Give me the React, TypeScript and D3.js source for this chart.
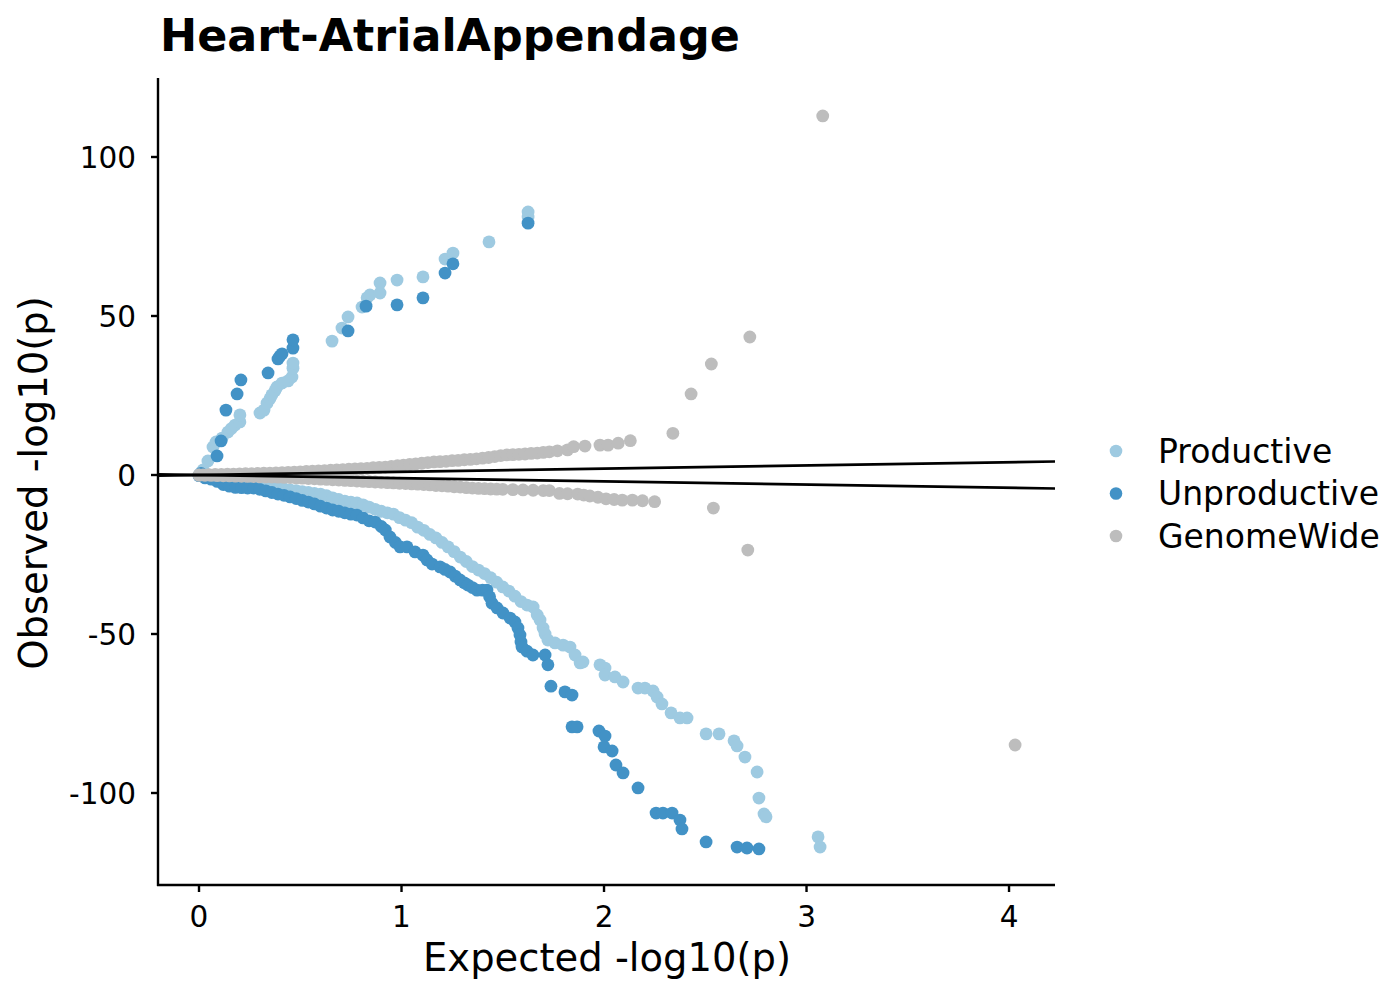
import React from "react";
import * as d3 from "d3";

const productive: [number, number][] = [
  [0.005, 0.3], [0.01, 0.8], [0.02, 1.6], [0.044, 4.4], [0.069, 8.8], [0.084, 10.4], [0.114, 11.6],
  [0.143, 13.5], [0.16, 14.6], [0.178, 15.7], [0.202, 16.7], [0.202, 18.9], [0.301, 19.5],
  [0.321, 20.4], [0.336, 22.6], [0.35, 24.0], [0.36, 25.2], [0.375, 26.5], [0.385, 27.7],
  [0.41, 28.9], [0.44, 29.6], [0.459, 30.8], [0.464, 33.6], [0.464, 35.2], [0.657, 42.1],
  [0.706, 46.2], [0.736, 49.7], [0.805, 52.8], [0.83, 55.7], [0.844, 56.6], [0.894, 57.2],
  [0.894, 60.4], [0.978, 61.3], [1.106, 62.3], [1.215, 67.9], [1.254, 69.8], [1.432, 73.3],
  [1.625, 82.7], [1.625, 81.1],
  [0.0, -0.1], [0.03, -0.6], [0.06, -1.0], [0.09, -1.4], [0.12, -1.8], [0.15, -2.1], [0.18, -2.4],
  [0.21, -2.6], [0.24, -2.9], [0.27, -3.1], [0.3, -3.4], [0.33, -3.7], [0.36, -3.9], [0.39, -4.1],
  [0.42, -4.4], [0.45, -4.7], [0.48, -4.9], [0.51, -5.2], [0.54, -5.5], [0.57, -5.8], [0.6, -6.0],
  [0.63, -6.5], [0.66, -7.2], [0.69, -7.7], [0.72, -8.2], [0.75, -8.5], [0.78, -8.8], [0.81, -9.4],
  [0.84, -10.1], [0.87, -10.8], [0.9, -11.4], [0.93, -11.9], [0.96, -12.3], [0.99, -13.4],
  [1.02, -14.2], [1.05, -15.0], [1.08, -16.4], [1.11, -17.4], [1.14, -18.7], [1.17, -19.8],
  [1.2, -21.2], [1.23, -22.6], [1.26, -24.1], [1.29, -25.8], [1.32, -27.2], [1.35, -28.8],
  [1.38, -29.9], [1.41, -31.0], [1.44, -32.3], [1.47, -33.7], [1.5, -35.2], [1.53, -36.5],
  [1.56, -38.1], [1.59, -39.8], [1.62, -40.9], [1.65, -41.5], [1.67, -44.0], [1.684, -45.6],
  [1.699, -48.1], [1.709, -50.0], [1.723, -51.9], [1.758, -52.8], [1.798, -53.5], [1.832, -54.1],
  [1.857, -56.6], [1.882, -59.1], [1.896, -58.8], [1.98, -59.7], [2.005, -60.7], [2.005, -62.9],
  [2.054, -63.5], [2.094, -65.1], [2.168, -67.0], [2.202, -67.0], [2.242, -67.9], [2.262, -69.8],
  [2.286, -72.0], [2.331, -74.8], [2.375, -76.4], [2.41, -76.4], [2.504, -81.4], [2.568, -81.4],
  [2.642, -83.6], [2.657, -85.2], [2.696, -88.7], [2.756, -93.4], [2.765, -101.6], [2.79, -106.6],
  [2.8, -107.5], [3.057, -113.8], [3.067, -117.0],
];

const unproductive: [number, number][] = [
  [0.01, 0.5], [0.089, 6.0], [0.109, 10.7], [0.133, 20.4], [0.188, 25.5], [0.207, 29.9],
  [0.341, 32.1], [0.39, 36.5], [0.4, 37.4], [0.41, 38.1], [0.464, 39.9], [0.464, 42.5],
  [0.736, 45.3], [0.825, 53.1], [0.978, 53.5], [1.106, 55.7], [1.215, 63.5], [1.254, 66.4],
  [1.625, 79.2],
  [0.0, -0.2], [0.03, -0.9], [0.06, -1.3], [0.09, -2.0], [0.12, -3.0], [0.15, -3.5], [0.18, -3.9],
  [0.21, -4.0], [0.24, -4.1], [0.27, -4.1], [0.3, -4.5], [0.33, -5.0], [0.36, -5.5], [0.39, -6.0],
  [0.42, -6.4], [0.45, -6.9], [0.48, -7.4], [0.51, -8.0], [0.54, -8.5], [0.57, -9.1], [0.6, -9.8],
  [0.63, -10.4], [0.66, -11.0], [0.69, -11.4], [0.72, -11.9], [0.75, -12.3], [0.78, -12.6],
  [0.81, -13.5], [0.84, -14.4], [0.87, -14.8], [0.9, -16.2], [0.92, -17.3], [0.943, -19.5],
  [0.97, -21.2], [0.993, -22.6], [1.027, -22.6], [1.067, -24.2], [1.106, -25.2], [1.126, -26.7],
  [1.151, -28.0], [1.19, -28.9], [1.215, -29.7], [1.24, -30.5], [1.265, -31.8], [1.289, -33.0],
  [1.31, -33.9], [1.328, -34.6], [1.35, -35.4], [1.373, -36.2], [1.4, -36.2], [1.422, -36.2],
  [1.435, -38.3], [1.447, -40.3], [1.472, -41.8], [1.501, -43.4], [1.536, -45.0], [1.56, -46.2],
  [1.575, -48.1], [1.585, -50.3], [1.59, -52.5], [1.595, -54.1], [1.62, -55.4], [1.649, -56.6],
  [1.709, -56.6], [1.723, -59.7], [1.738, -66.4], [1.807, -68.2], [1.842, -69.2], [1.842, -79.2],
  [1.867, -79.2], [1.975, -80.5], [2.005, -82.1], [2.0, -85.5], [2.04, -86.8], [2.059, -91.2],
  [2.094, -93.7], [2.168, -98.4], [2.257, -106.3], [2.291, -106.3], [2.336, -106.3], [2.375, -108.5],
  [2.385, -111.3], [2.504, -115.4], [2.657, -117.0], [2.706, -117.3], [2.765, -117.6],
];

const genomeWide: [number, number][] = [
  [0, 0], [0.02, 0.05], [0.05, 0.1], [0.08, 0.15], [0.11, 0.2], [0.14, 0.25], [0.17, 0.3], [0.2, 0.35],
  [0.23, 0.4], [0.26, 0.45], [0.29, 0.5], [0.32, 0.55], [0.35, 0.6], [0.38, 0.65], [0.41, 0.7],
  [0.44, 0.8], [0.47, 0.9], [0.5, 1.0], [0.53, 1.1], [0.56, 1.2], [0.59, 1.3], [0.62, 1.4], [0.65, 1.5],
  [0.68, 1.6], [0.71, 1.7], [0.74, 1.8], [0.77, 1.9], [0.8, 2.0], [0.83, 2.1], [0.86, 2.3], [0.89, 2.4],
  [0.92, 2.5], [0.95, 2.7], [0.98, 2.9], [1.01, 3.1], [1.04, 3.3], [1.07, 3.5], [1.1, 3.7], [1.13, 3.9],
  [1.16, 4.1], [1.19, 4.2], [1.22, 4.3], [1.25, 4.5], [1.28, 4.6], [1.31, 4.8], [1.34, 4.9], [1.37, 5.1],
  [1.4, 5.3], [1.43, 5.5], [1.46, 5.8], [1.49, 6.1], [1.52, 6.3], [1.55, 6.4], [1.58, 6.5], [1.61, 6.6],
  [1.64, 6.8], [1.67, 6.9], [1.7, 7.1], [1.73, 7.3], [1.77, 7.6], [1.82, 7.9], [1.85, 8.9], [1.906, 9.1],
  [1.98, 9.4], [2.02, 9.4], [2.07, 10.0], [2.13, 10.8], [2.34, 13.1], [2.43, 25.5], [2.53, 34.9],
  [2.72, 43.4], [3.08, 112.9],
  [0, -0.05], [0.03, -0.1], [0.06, -0.15], [0.09, -0.2], [0.12, -0.25], [0.15, -0.3], [0.18, -0.35],
  [0.21, -0.4], [0.24, -0.45], [0.27, -0.5], [0.3, -0.55], [0.33, -0.6], [0.36, -0.65], [0.39, -0.7],
  [0.42, -0.75], [0.45, -0.8], [0.48, -0.9], [0.51, -1.0], [0.54, -1.1], [0.57, -1.2], [0.6, -1.3],
  [0.63, -1.4], [0.66, -1.5], [0.69, -1.6], [0.72, -1.7], [0.75, -1.8], [0.78, -1.9], [0.81, -2.0],
  [0.84, -2.1], [0.87, -2.2], [0.9, -2.3], [0.93, -2.4], [0.96, -2.5], [0.99, -2.6], [1.02, -2.7],
  [1.05, -2.8], [1.08, -2.9], [1.11, -3.0], [1.14, -3.1], [1.17, -3.3], [1.2, -3.4], [1.23, -3.5],
  [1.26, -3.7], [1.29, -3.8], [1.32, -4.0], [1.35, -4.1], [1.38, -4.2], [1.41, -4.3], [1.44, -4.4],
  [1.47, -4.45], [1.5, -4.5], [1.55, -4.6], [1.6, -4.7], [1.65, -4.8], [1.7, -4.9], [1.73, -4.9],
  [1.78, -5.8], [1.82, -5.9], [1.87, -6.0], [1.9, -6.3], [1.93, -6.6], [1.97, -7.0], [2.01, -7.5],
  [2.05, -7.7], [2.09, -7.9], [2.14, -7.9], [2.19, -8.1], [2.25, -8.4], [2.54, -10.4], [2.71, -23.6],
  [4.03, -84.9],
];

const seriesNames = ["Productive", "Unproductive", "GenomeWide"];
const seriesColors = ["#9ecae1", "#4292c6", "#bdbdbd"];
const xTicks = [0, 1, 2, 3, 4];
const yTicks = [-100, -50, 0, 50, 100];

const FONT = "DejaVu Sans, Verdana, sans-serif";

export default function App() {
  const margin = { left: 158, right: 1055, top: 78, bottom: 885 };
  const x = d3.scaleLinear().domain([-0.2025, 4.227]).range([margin.left, margin.right]);
  const y = d3.scaleLinear().domain([-128.93, 124.84]).range([margin.bottom, margin.top]);
  const allSeries = [productive, unproductive, genomeWide];
  const [x0, x1] = x.domain();

  return (
    <svg
      width={1400}
      height={1000}
      style={{ position: "absolute", left: 0, top: 0, background: "#fff" }}
      fontFamily={FONT}
    >
      <text x={160} y={51} fontSize={44.4} fontWeight="bold" fill="#000">
        Heart-AtrialAppendage
      </text>

      {allSeries.map((pts, si) => (
        <g key={seriesNames[si]} fill={seriesColors[si]}>
          {pts.map((p, i) => (
            <circle key={i} cx={x(p[0])} cy={y(p[1])} r={6.4} />
          ))}
        </g>
      ))}

      {/* identity lines */}
      <line x1={x(x0)} y1={y(x0)} x2={x(x1)} y2={y(x1)} stroke="#000" strokeWidth={2.6} />
      <line x1={x(x0)} y1={y(-x0)} x2={x(x1)} y2={y(-x1)} stroke="#000" strokeWidth={2.6} />

      {/* axes */}
      <line x1={margin.left} y1={margin.top} x2={margin.left} y2={margin.bottom + 1} stroke="#000" strokeWidth={2.4} />
      <line x1={margin.left - 1} y1={margin.bottom} x2={margin.right} y2={margin.bottom} stroke="#000" strokeWidth={2.4} />

      {xTicks.map((t) => (
        <g key={t}>
          <line x1={x(t)} x2={x(t)} y1={margin.bottom} y2={margin.bottom + 7} stroke="#000" strokeWidth={2.4} />
          <text x={x(t)} y={927} textAnchor="middle" fontSize={29.5} fill="#000">
            {t}
          </text>
        </g>
      ))}
      {yTicks.map((t) => (
        <g key={t}>
          <line x1={margin.left - 7} x2={margin.left} y1={y(t)} y2={y(t)} stroke="#000" strokeWidth={2.4} />
          <text x={136} y={y(t) + 11} textAnchor="end" fontSize={29.5} fill="#000">
            {t}
          </text>
        </g>
      ))}

      <text x={607} y={971} textAnchor="middle" fontSize={38.5} fill="#000">
        Expected -log10(p)
      </text>
      <text
        transform={`translate(47,483) rotate(-90)`}
        textAnchor="middle"
        fontSize={38.5}
        fill="#000"
      >
        Observed -log10(p)
      </text>

      {seriesNames.map((name, i) => (
        <g key={name} transform={`translate(0,${451 + i * 42.5})`}>
          <circle cx={1116} cy={0} r={6.3} fill={seriesColors[i]} />
          <text x={1158} y={11.5} fontSize={33} fill="#000">
            {name}
          </text>
        </g>
      ))}
    </svg>
  );
}
